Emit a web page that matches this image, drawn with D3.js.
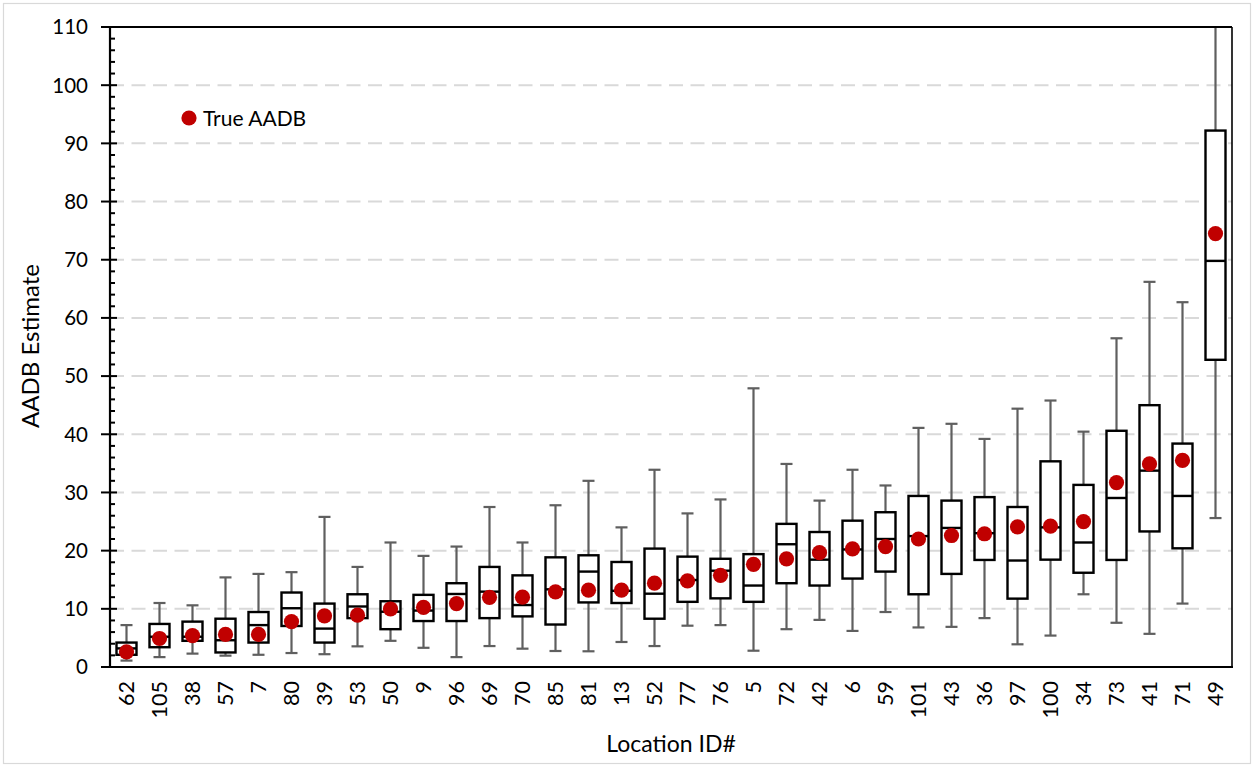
<!DOCTYPE html>
<html><head><meta charset="utf-8">
<script src="https://cdn.jsdelivr.net/npm/d3@7"></script>
<style>body{margin:0;background:#fff}svg{display:block}text{font-family:Lato,"Open Sans",sans-serif;fill:#000}</style>
</head><body><svg id="c" width="1254" height="767"></svg>
<script>
const categories = ["62","105","38","57","7","80","39","53","50","9","96","69","70","85","81","13","52","77","76","5","72","42","6","59","101","43","36","97","100","34","73","41","71","49"];
const whiskerHigh = [7.2,11.0,10.6,15.4,16.0,16.3,25.8,17.2,21.4,19.1,20.7,27.5,21.4,27.8,32.0,24.0,33.9,26.4,28.8,47.9,34.9,28.6,33.9,31.2,41.1,41.8,39.2,44.4,45.8,40.45,56.5,66.2,62.7,120];
const q3 = [4.2,7.4,7.8,8.3,9.45,12.8,10.9,12.5,11.3,12.4,14.4,17.2,15.75,18.85,19.2,18.05,20.35,18.97,18.6,19.4,24.6,23.2,25.15,26.6,29.4,28.6,29.2,27.5,35.35,31.3,40.6,45.0,38.4,92.2];
const median = [3.2,5.2,5.2,4.6,7.2,10.1,6.6,10.4,9.5,9.7,12.55,12.95,10.65,13.35,16.4,13.1,12.6,14.95,16.55,14.0,21.1,18.45,20.2,22.0,22.5,23.9,23.0,18.3,24.0,21.4,29.05,33.75,29.4,69.8];
const q1 = [2.1,3.4,4.5,2.5,4.2,7.05,4.2,8.4,6.5,7.9,7.9,8.4,8.7,7.3,11.1,11.0,8.3,11.2,11.8,11.2,14.4,14.0,15.2,16.4,12.5,16.0,18.4,11.75,18.45,16.2,18.4,23.3,20.4,52.8];
const whiskerLow = [1.1,1.7,2.3,1.95,2.1,2.4,2.2,3.55,4.5,3.3,1.7,3.6,3.15,2.75,2.7,4.3,3.6,7.1,7.2,2.8,6.5,8.1,6.2,9.45,6.8,6.9,8.4,3.9,5.4,12.5,7.6,5.7,10.9,25.6];
const trueAADB = [2.6,4.9,5.4,5.6,5.6,7.8,8.8,8.9,9.97,10.25,10.9,11.97,12.0,12.9,13.2,13.2,14.4,14.8,15.75,17.65,18.6,19.65,20.3,20.7,22.0,22.6,22.9,24.1,24.2,25.0,31.7,34.9,35.5,74.5];
const yTicks = [0,10,20,30,40,50,60,70,80,90,100,110];

const L=110,R=1232,T=27,B=667;
const svg=d3.select("#c");
svg.append("rect").attr("x",3.5).attr("y",3.5).attr("width",1247).attr("height",760).attr("fill","#fff").attr("stroke","#d9d9d9").attr("stroke-width",1.2);

const x=d3.scaleBand().domain(categories).range([L,R]).paddingInner(0).paddingOuter(0);
const y=d3.scaleLinear().domain([0,110]).range([B,T]);
const data=categories.map((c,i)=>({c,lo:whiskerLow[i],q1:q1[i],md:median[i],q3:q3[i],hi:whiskerHigh[i],t:trueAADB[i]}));

svg.append("defs").append("clipPath").attr("id","clip").append("rect").attr("x",L).attr("y",T).attr("width",R-L).attr("height",B-T);

// gridlines
svg.append("g").selectAll("line").data(yTicks.filter(v=>v>0&&v<110)).join("line")
 .attr("x1",L).attr("x2",R).attr("y1",d=>y(d)).attr("y2",d=>y(d))
 .attr("stroke","#d9d9d9").attr("stroke-width",2).attr("stroke-dasharray","14,7.5");

const g=svg.append("g").attr("clip-path","url(#clip)");
const bw=20, cw=12;
const cx=d=>x(d.c)+x.bandwidth()/2;
const items=g.selectAll("g.b").data(data).join("g");
items.append("line").attr("x1",cx).attr("x2",cx).attr("y1",d=>y(d.lo)).attr("y2",d=>y(d.hi)).attr("stroke","#5f5f5f").attr("stroke-width",2.2);
items.append("line").attr("x1",d=>cx(d)-cw/2).attr("x2",d=>cx(d)+cw/2).attr("y1",d=>y(d.lo)).attr("y2",d=>y(d.lo)).attr("stroke","#5f5f5f").attr("stroke-width",2.2);
items.append("line").attr("x1",d=>cx(d)-cw/2).attr("x2",d=>cx(d)+cw/2).attr("y1",d=>y(d.hi)).attr("y2",d=>y(d.hi)).attr("stroke","#5f5f5f").attr("stroke-width",2.2);
items.append("rect").attr("x",d=>cx(d)-bw/2).attr("width",bw).attr("y",d=>y(d.q3)).attr("height",d=>y(d.q1)-y(d.q3))
 .attr("fill","#fff").attr("stroke","#000").attr("stroke-width",2.4);
items.append("line").attr("x1",d=>cx(d)-bw/2).attr("x2",d=>cx(d)+bw/2).attr("y1",d=>y(d.md)).attr("y2",d=>y(d.md)).attr("stroke","#000").attr("stroke-width",2.4);
items.append("circle").attr("cx",cx).attr("cy",d=>y(d.t)).attr("r",7.6).attr("fill","#c00000");

// frame
svg.append("line").attr("x1",L).attr("x2",R).attr("y1",T).attr("y2",T).attr("stroke","#000").attr("stroke-width",2);
svg.append("line").attr("x1",R).attr("x2",R).attr("y1",T).attr("y2",B).attr("stroke","#000").attr("stroke-width",1.6);

// y axis
const ya=svg.append("g");
ya.append("line").attr("x1",L).attr("x2",L).attr("y1",T-1).attr("y2",B+1).attr("stroke","#000").attr("stroke-width",2.2);
const minor=d3.range(0,111,2).filter(v=>v%10!==0);
ya.selectAll("line.mn").data(minor).join("line").attr("class","mn").attr("x1",L).attr("x2",L+5).attr("y1",d=>y(d)).attr("y2",d=>y(d)).attr("stroke","#000").attr("stroke-width",2);
ya.selectAll("line.mj").data(yTicks).join("line").attr("class","mj").attr("x1",L-9).attr("x2",d=>d===110||d===0?L:L+7).attr("y1",d=>y(d)).attr("y2",d=>y(d)).attr("stroke","#000").attr("stroke-width",2);
ya.selectAll("text").data(yTicks).join("text").attr("x",88).attr("y",d=>y(d)).attr("dy","0.36em").attr("text-anchor","end").attr("font-size",20.5).text(d=>d);

// x axis
svg.append("line").attr("x1",L-1).attr("x2",R+1).attr("y1",B).attr("y2",B).attr("stroke","#000").attr("stroke-width",2.2);
svg.append("g").selectAll("text").data(categories).join("text")
 .attr("transform",d=>`translate(${x(d)+x.bandwidth()/2+7.5},681) rotate(-90)`)
 .attr("text-anchor","end").attr("font-size",21.5).text(d=>d);

// titles
svg.append("text").attr("transform","translate(39,346) rotate(-90)").attr("text-anchor","middle").attr("font-size",24).text("AADB Estimate");
svg.append("text").attr("x",671).attr("y",752).attr("text-anchor","middle").attr("font-size",23).text("Location ID#");

// legend
svg.append("circle").attr("cx",189).attr("cy",118).attr("r",7.6).attr("fill","#c00000");
svg.append("text").attr("x",203).attr("y",118).attr("dy","0.36em").attr("font-size",21).text("True AADB");
</script></body></html>
